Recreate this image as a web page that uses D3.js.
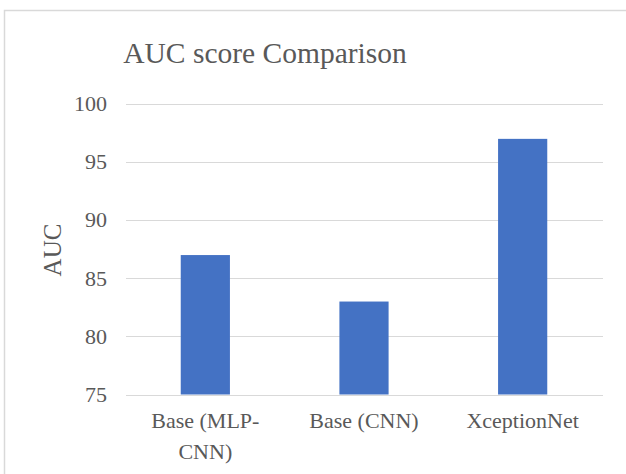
<!DOCTYPE html>
<html>
<head>
<meta charset="utf-8">
<script src="https://cdn.jsdelivr.net/npm/d3@7"></script>
<style>
  body { margin: 0; background: #fff; }
  svg { display: block; }
  text { font-family: 'Liberation Serif', 'Times New Roman', serif; fill: #595959; }
</style>
</head>
<body>
<figure style="margin:0"></figure>
<script>
const width = 626
const height = 474

const categories = ['Base (MLP-CNN)', 'Base (CNN)', 'XceptionNet']
const auc = [87, 83, 97]
const yTicks = [75, 80, 85, 90, 95, 100]

const svg = d3.select('figure').append('svg')
  .attr('width', width)
  .attr('height', height)

// chart frame
svg.append('rect')
  .attr('x', 4.5)
  .attr('y', 10.5)
  .attr('width', 640)
  .attr('height', 480)
  .attr('fill', '#fff')
  .attr('stroke', '#d9d9d9')
  .attr('stroke-width', 1.5)

const x = d3.scaleBand()
  .domain(categories)
  .range([126, 602])
  .paddingInner(0.69)
  .paddingOuter(0.345)

const y = d3.scaleLinear()
  .domain([75, 100])
  .range([394.5, 104])

// gridlines
svg.append('g')
  .selectAll('line')
  .data(yTicks)
  .join('line')
  .attr('x1', 126)
  .attr('x2', 603)
  .attr('y1', d => Math.round(y(d)) + 0.5)
  .attr('y2', d => Math.round(y(d)) + 0.5)
  .attr('stroke', '#d9d9d9')
  .attr('stroke-width', 1.2)

// y tick labels
svg.append('g')
  .selectAll('text')
  .data(yTicks)
  .join('text')
  .attr('x', 107)
  .attr('y', d => y(d))
  .attr('dy', '0.33em')
  .attr('text-anchor', 'end')
  .style('font-size', '22px')
  .text(d => d)

// bars
svg.append('g')
  .selectAll('rect')
  .data(categories)
  .join('rect')
  .attr('x', d => x(d))
  .attr('width', x.bandwidth())
  .attr('y', (d, i) => y(auc[i]))
  .attr('height', (d, i) => y(75) - y(auc[i]))
  .attr('fill', '#4472c4')

// category labels, wrapped after the hyphen when too long
const catLabels = svg.append('g')
  .selectAll('text')
  .data(categories)
  .join('text')
  .attr('text-anchor', 'middle')
  .style('font-size', '22px')

catLabels.each(function (d) {
  const lines = d.length > 12 ? d.split(/(?<=-)/) : [d]
  const t = d3.select(this)
  lines.forEach((line, i) => {
    t.append('tspan')
      .attr('x', x(d) + x.bandwidth() / 2)
      .attr('y', 428 + i * 31)
      .text(line)
  })
})

// axis title
svg.append('text')
  .attr('transform', 'translate(61,250) rotate(-90)')
  .attr('text-anchor', 'middle')
  .style('font-size', '25px')
  .text('AUC')

// chart title
svg.append('text')
  .attr('x', 265)
  .attr('y', 63)
  .attr('text-anchor', 'middle')
  .style('font-size', '29.5px')
  .text('AUC score Comparison')
</script>
</body>
</html>
